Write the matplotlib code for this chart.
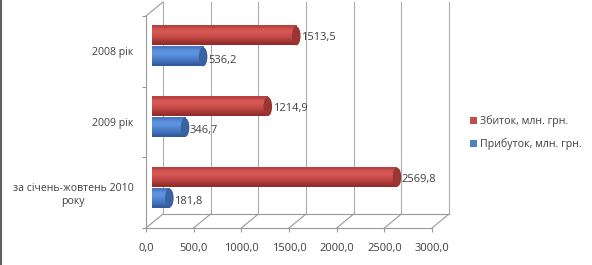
import matplotlib
matplotlib.use("Agg")
import matplotlib.pyplot as plt
import numpy as np
from matplotlib.lines import Line2D
from matplotlib.patches import Ellipse, Patch
from matplotlib.transforms import ScaledTranslation, IdentityTransform

categories = ['2008 рік', '2009 рік', 'за січень-жовтень 2010\nроку']
zbytok = [1513.5, 1214.9, 2569.8]      # loss, red
prybutok = [536.2, 346.7, 181.8]       # profit, blue
x_ticks = [0, 500, 1000, 1500, 2000, 2500, 3000]
legend_labels = ['Збиток, млн. грн.', 'Прибуток, млн. грн.']

plt.rcParams['font.family'] = ['Open Sans', 'DejaVu Sans']
txt = '#404040'
grid_c = '#ADADAD'
edge_c = '#999999'
fs = 8

fig = plt.figure(figsize=(5.92, 2.65), dpi=100)
ax = fig.add_axes([146 / 592, 37 / 265, 286 / 592, 212 / 265])
ax.set_xlim(0, 3000)
ax.set_ylim(0, 3)
ax.patch.set_visible(False)

for s in ['top', 'right']:
    ax.spines[s].set_visible(False)
for s in ['left', 'bottom']:
    ax.spines[s].set_color(edge_c)
    ax.spines[s].set_linewidth(0.8)

ax.set_xticks(x_ticks)
ax.set_xticklabels([f'{v:.1f}'.replace('.', ',') for v in x_ticks], fontsize=fs, color=txt)
ax.set_yticks([0, 1, 2, 3])
ax.set_yticklabels([])
ax.set_yticks([2.5, 1.5, 0.5], minor=True)
ax.set_yticklabels(categories, minor=True, fontsize=7.6, color=txt, multialignment='center')
ax.tick_params(axis='both', which='major', color=edge_c, length=3, width=0.8)
ax.tick_params(axis='x', pad=8)
ax.tick_params(axis='y', which='minor', length=0, pad=9)

# depth offsets (pixels)
dx, dy = 17, 14
back = ax.transData + ScaledTranslation(dx / 100, dy / 100, fig.dpi_scale_trans)
mid = ax.transData + ScaledTranslation(6 / 100, 5 / 100, fig.dpi_scale_trans)

# back wall grid and floor
for v in x_ticks:
    ax.plot([v, v], [0, 3], color=grid_c, lw=0.8, transform=back, clip_on=False, zorder=0)
    p = ax.transData.transform((v, 0))
    fig.add_artist(Line2D([p[0], p[0] + dx], [p[1], p[1] + dy], color=edge_c, lw=0.8,
                          transform=IdentityTransform(), zorder=0))
ax.plot([0, 3000], [0, 0], color=edge_c, lw=0.8, transform=back, clip_on=False, zorder=0)
p = ax.transData.transform((0, 3))
fig.add_artist(Line2D([p[0], p[0] + dx], [p[1], p[1] + dy], color=edge_c, lw=0.8,
                      transform=IdentityTransform(), zorder=0))

# cylinder-like bars (gradient listed bottom -> top)
def cylinder(value, yc, h, stops, cap):
    grad = np.array(stops)[:, None, :]
    ax.imshow(grad, extent=(0, value, yc - h / 2, yc + h / 2), aspect='auto', origin='lower',
              interpolation='bilinear', transform=mid, zorder=2, clip_on=False)
    w = 90
    ax.add_patch(Ellipse((value, yc), w, h, facecolor=cap, edgecolor='none',
                         transform=mid, zorder=3, clip_on=False))
    return value + w / 2

red_stops = [(0.58, 0.18, 0.17), (0.66, 0.22, 0.21), (0.74, 0.27, 0.26), (0.80, 0.31, 0.30),
             (0.84, 0.35, 0.34), (0.82, 0.33, 0.32), (0.72, 0.26, 0.25)]
blue_stops = [(0.20, 0.36, 0.62), (0.25, 0.43, 0.71), (0.29, 0.49, 0.78), (0.33, 0.54, 0.84),
              (0.38, 0.58, 0.88), (0.35, 0.56, 0.86), (0.28, 0.47, 0.76)]

h = 0.27
for i, c in enumerate([2.5, 1.5, 0.5]):
    end = cylinder(zbytok[i], c + 0.148, h, red_stops, '#9A3533')
    ax.text(end + 5, c + 0.148 - 0.03, f'{zbytok[i]:.1f}'.replace('.', ','), fontsize=fs,
            color=txt, ha='left', va='center', transform=mid)
    end = cylinder(prybutok[i], c - 0.148, h, blue_stops, '#3A62A0')
    ax.text(end + 5, c - 0.148 - 0.05, f'{prybutok[i]:.1f}'.replace('.', ','), fontsize=fs,
            color=txt, ha='left', va='center', transform=mid)

ax.set_xlim(0, 3000)
ax.set_ylim(0, 3)

handles = [Patch(facecolor='#C0504D', edgecolor='none'), Patch(facecolor='#4F81BD', edgecolor='none')]
fig.legend(handles, legend_labels, loc='center left', bbox_to_anchor=(460 / 592, 1 - 133 / 265),
           frameon=False, fontsize=7.7, labelcolor=txt, handlelength=0.7, handleheight=0.7,
           handletextpad=0.25, labelspacing=1.05)

fig.add_artist(Line2D([1 / 592, 1 / 592], [0, 1], transform=fig.transFigure, color='#606060', lw=1.5))

fig.savefig('out.png', dpi=100)
